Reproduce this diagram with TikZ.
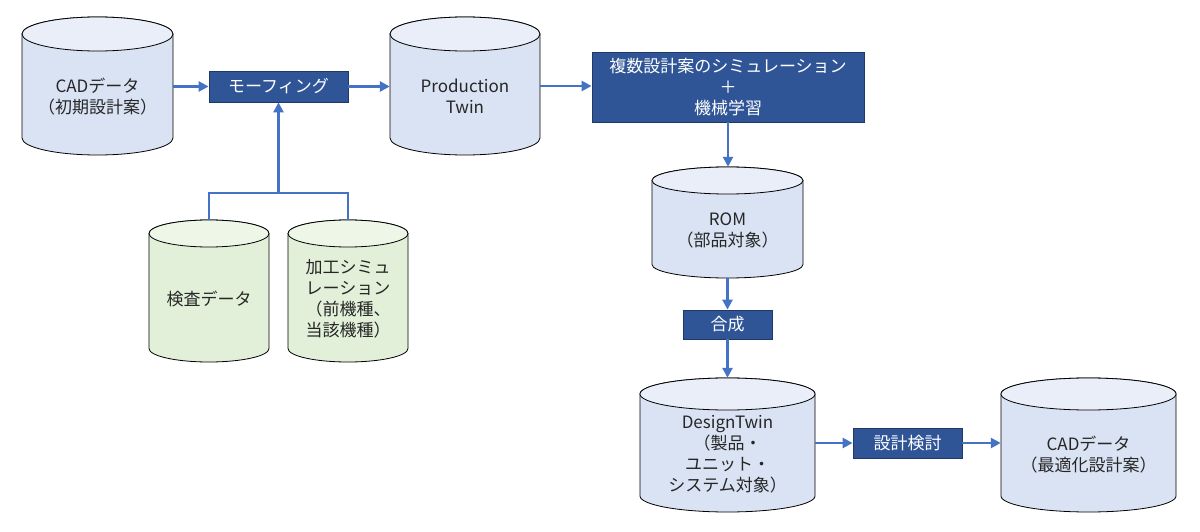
\documentclass[tikz,border=0pt]{standalone}
\usepackage{fontspec}
\setmainfont{Noto Sans CJK JP}
\usetikzlibrary{arrows.meta,calc}
\definecolor{bluebody}{HTML}{DAE3F3}
\definecolor{bluecap}{HTML}{E9EEF8}
\definecolor{greenbody}{HTML}{E2F0D9}
\definecolor{greencap}{HTML}{EDF6E7}
\definecolor{boxfill}{HTML}{2F5597}
\definecolor{boxline}{HTML}{1F3864}
\definecolor{arrowblue}{HTML}{4472C4}
\definecolor{txtgray}{HTML}{262626}
\tikzset{
  txt/.style={align=center, text=txtgray, font=\fontsize{17pt}{21pt}\selectfont, inner sep=0pt},
  procbox/.style={draw=boxline, line width=0.8pt, fill=boxfill, text=white, align=center,
    font=\fontsize{17pt}{21pt}\selectfont, inner sep=0pt},
  conn/.style={draw=arrowblue, line width=2.8pt, line join=miter},
  arr/.style={conn, -{Triangle[length=10pt,width=10pt]}},
  cylline/.style={draw=black, line width=0.8pt},
}
\newcommand{\mycyl}[7]{%
  \pgfmathsetmacro{\hw}{#3/2}\pgfmathsetmacro{\hh}{#4/2}%
  \node[draw=none, minimum width=#3pt, minimum height=#4pt, inner sep=0pt] (#1) at (#2) {};
  \begin{scope}[shift={(#1.center)}]
    \path[cylline, fill=#6body] (-\hw,\hh-#5) -- (-\hw,-\hh+#5)
      arc[start angle=180, end angle=360, x radius=\hw, y radius=#5]
      -- (\hw,\hh-#5)
      arc[start angle=0, end angle=180, x radius=\hw, y radius=#5] -- cycle;
    \path[cylline, fill=#6cap] (0,\hh-#5) ellipse[x radius=\hw, y radius=#5];
  \end{scope}
  \node[txt] (#1-t) at ($(#1.center)+(0,-0.6*#5)$) {#7};
}
\begin{document}
\begin{tikzpicture}[x=1pt, y=1pt]
\useasboundingbox (0,0) rectangle (1200,-532);

% cylinders
\mycyl{cad1}{97.5,-86}{151}{138}{17}{blue}{CADデータ\\（初期設計案）}
\mycyl{prod}{465,-86}{150}{138}{17}{blue}{Production\\Twin}
\mycyl{rom}{727.5,-222.5}{151}{111}{13.5}{blue}{ROM\\（部品対象）}
\mycyl{dt}{727.5,-445}{175}{134}{16}{blue}{DesignTwin\\（製品・\\ユニット・\\システム対象）}
\mycyl{cad2}{1088.5,-445}{175}{134}{16}{blue}{CADデータ\\（最適化設計案）}
\mycyl{kensa}{209,-291}{120}{142}{13.5}{green}{検査データ}
\mycyl{kakou}{348,-291}{120}{142}{13.5}{green}{加工シミュ\\レーション\\（前機種、\\当該機種）}

% process boxes
\node[procbox, minimum width=139pt, minimum height=31pt] (morph) at (278.5,-86.5) {モーフィング};
\node[procbox, minimum width=272pt, minimum height=70pt] (sim) at (728,-87) {複数設計案のシミュレーション\\＋\\機械学習};
\node[procbox, minimum width=89pt, minimum height=29pt] (gousei) at (727.5,-324.5) {合成};
\node[procbox, minimum width=109pt, minimum height=30pt] (kentou) at (907.5,-443) {設計検討};

% connectors
\draw[arr] (cad1.east |- morph.west) -- (morph.west);
\draw[arr] (morph.east) -- (morph.east -| prod.west);
\draw[arr] (prod.east) -- (prod.east -| sim.west);
\draw[arr] (sim.south) -- (sim.south |- rom.north);
\draw[arr] (rom.south) -- (rom.south |- gousei.north);
\draw[arr] (gousei.south) -- (gousei.south |- dt.north);
\draw[arr] (dt.east |- kentou.west) -- (kentou.west);
\draw[arr] (kentou.east) -- (kentou.east -| cad2.west);
\coordinate (j) at (278.5,-193);
\draw[conn] (kensa.north) -- (kensa.north |- j) -- (kakou.north |- j) -- (kakou.north);
\draw[arr] (j) -- (morph.south);
\end{tikzpicture}
\end{document}
